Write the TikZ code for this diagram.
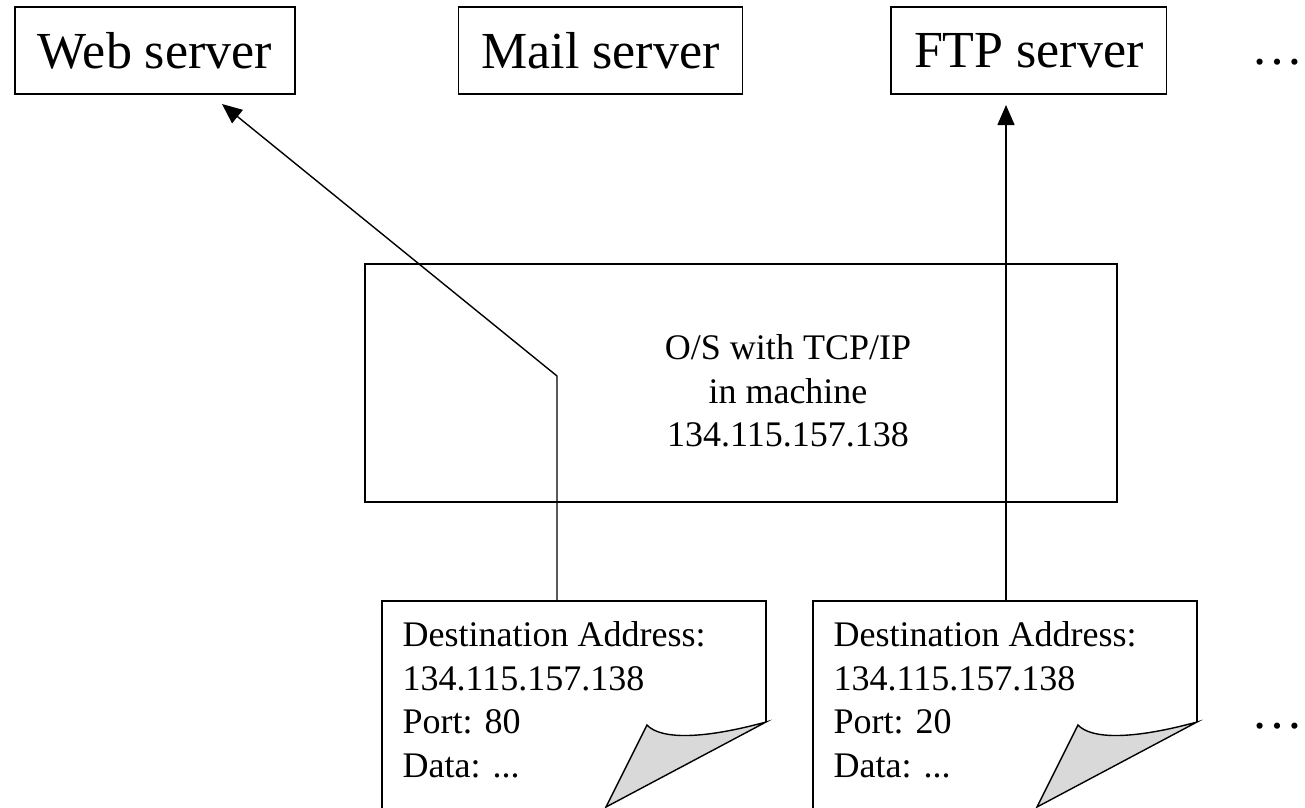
\documentclass[tikz,border=0pt]{standalone}
\usepackage{fontspec}
\setmainfont{Liberation Serif}
\usetikzlibrary{arrows.meta,positioning}
\definecolor{foldgray}{HTML}{D9D9D9}

\begin{document}
\begin{tikzpicture}
[x=1pt,y=-1pt,line width=1.4pt,
server/.style={draw,minimum height=87pt,inner xsep=23pt,font=\fontsize{52}{62}\selectfont},
arr/.style={-{Triangle[length=20pt,width=17pt]}},
fold/.style={fill=foldgray,draw,line join=miter},
pkt/.style={align=left,anchor=north west,inner sep=0pt,font=\fontsize{36}{43.5}\selectfont},
more/.style={anchor=base,inner sep=0pt,font=\fontsize{52}{62}\selectfont}]
\useasboundingbox (0,0) rectangle (1305,807);
%%%%%%%%%%

\newcommand{\datagram}[3]{
\begin{scope}[shift={(#2,0)}]
    \draw (0,830) -- (0,601) -- (384,601) -- (384,722);
    \filldraw[fold] (384,722) .. controls (318,740) and (278,739) .. (265,725) -- (224,807) -- cycle;
    \node[pkt] (#1) at (20,621) {Destination Address:\\134.115.157.138\\Port: #3\\Data: ...};
\end{scope}
}
%%%%%%%%%%

%% servers
\node[server] (web) at (155,50.5) {Web server};
\node[server,right=162pt of web] (mail) {Mail server};
\node[server,right=147pt of mail] (ftp) {FTP server};
\node[more] (more1) at (1277,64) {\textellipsis};

%% operating system
\node[draw,minimum width=752pt,minimum height=238pt] (os) at (741,383) {};
\node[align=center,font=\fontsize{36}{43.5}\selectfont] (ostext) at (788,391) {O/S with TCP/IP\\in machine\\134.115.157.138};

%% datagrams
\datagram{pk1}{382}{80}
\datagram{pk2}{813}{20}
\node[more] (more2) at (1277,728) {\textellipsis};

%% delivery
\coordinate (in1) at (557,601);
\coordinate (bend) at (557,376);
\coordinate (webtip) at (222,104);
\coordinate (in2) at (1006,601);
\coordinate (ftptip) at (1006,105);
\draw[arr] (in1) -- (bend) -- (webtip);
\draw[arr] (in2) -- (ftptip);
\end{tikzpicture}
\end{document}
